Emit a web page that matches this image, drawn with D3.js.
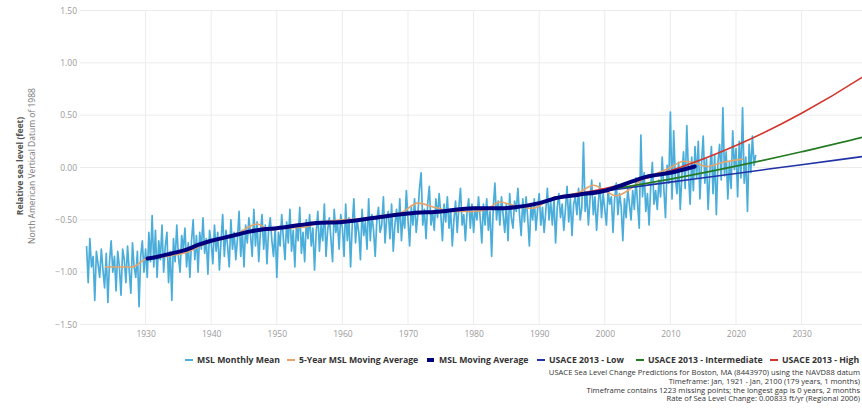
<!DOCTYPE html>
<html><head><meta charset="utf-8">
<script src="https://cdn.jsdelivr.net/npm/d3@7"></script>
<style>body{margin:0;background:#fff}svg{display:block;font-family:"Open Sans",sans-serif}</style>
</head><body>
<script>
// ---------- DATA ----------
const monthlyStartYear = 1921;
const monthlyStep = 0.25; // quarterly samples
const monthlyMean = [
-0.75,-1.10,-0.68,-0.95, -0.85,-1.27,-0.80,-0.92, -1.05,-0.78,-0.98,-1.15, -0.82,-1.29,-0.90,-0.70,
-1.00,-0.85,-1.18,-0.80, -0.95,-1.22,-0.78,-0.88, -1.10,-0.75,-0.98,-1.20, -0.72,-0.95,-1.05,-0.80,
-1.33,-0.85,-0.70,-1.00, -0.78,-1.05,-0.62,-0.90, -0.46,-0.95,-0.60,-1.05, -0.70,-0.88,-0.55,-1.00,
-0.75,-0.62,-1.10,-0.80, -1.27,-0.68,-0.90,-0.55, -0.85,-1.00,-0.65,-0.78, -0.58,-0.95,-0.72,-1.05,
-0.70,-0.50,-0.88,-0.65, -1.00,-0.62,-0.78,-0.48, -0.82,-0.68,-1.02,-0.60, -0.72,-0.92,-0.55,-0.80,
-0.62,-0.98,-0.70,-0.45, -0.85,-0.60,-0.75,-0.95, -0.50,-0.78,-0.62,-0.88, -0.68,-0.42,-0.85,-0.60,
-0.95,-0.55,-0.72,-0.48, -0.65,-0.85,-0.40,-0.75, -0.52,-0.90,-0.62,-0.45, -0.78,-0.55,-0.92,-0.60,
-0.48,-0.70,-0.85,-0.58, -1.05,-0.62,-0.75,-0.45, -0.68,-0.88,-0.52,-0.72, -0.40,-0.80,-0.60,-0.95,
-0.55,-0.70,-0.38,-0.82, -0.62,-0.90,-0.50,-0.68, -0.45,-0.75,-0.58,-0.98, -0.62,-0.42,-0.80,-0.55,
-0.70,-0.35,-0.85,-0.60, -0.48,-0.68,-0.90,-0.40, -0.62,-0.52,-0.78,-0.45, -0.58,-0.85,-0.35,-0.70,
-0.48,-0.95,-0.55,-0.30, -0.72,-0.50,-0.62,-0.88, -0.40,-0.65,-0.52,-0.78, -0.30,-0.70,-0.45,-0.60,
-0.85,-0.50,-0.38,-0.62, -0.55,-0.28,-0.72,-0.48, -0.42,-0.68,-0.35,-0.80, -0.55,-0.40,-0.62,-0.30,
-0.70,-0.45,-0.58,-0.22, -0.50,-0.75,-0.38,-0.55, -0.30,-0.62,-0.45,-0.20, -0.05,-0.55,-0.40,-0.68,
-0.35,-0.18,-0.55,-0.42, -0.60,-0.30,-0.48,-0.25, -0.45,-0.70,-0.35,-0.52, -0.28,-0.58,-0.40,-0.75,
-0.50,-0.32,-0.62,-0.38, -0.20,-0.55,-0.45,-0.70, -0.42,-0.30,-0.58,-0.35, -0.62,-0.38,-0.50,-0.28,
-0.48,-0.72,-0.35,-0.55, -0.30,-0.60,-0.42,-0.85, -0.38,-0.15,-0.50,-0.32, -0.55,-0.28,-0.45,-0.62,
-0.35,-0.70,-0.25,-0.48, -0.58,-0.32,-0.42,-0.20, -0.45,-0.65,-0.30,-0.52, -0.28,-0.48,-0.75,-0.35,
-0.50,-0.30,-0.60,-0.40, -0.25,-0.55,-0.38,-0.62, -0.42,-0.20,-0.50,-0.32, -0.55,-0.30,-0.72,-0.38,
-0.25,-0.48,-0.35,-0.60, -0.40,-0.18,-0.52,-0.30, -0.65,-0.35,-0.28,-0.45, -0.20,-0.50,-0.38, 0.24,
-0.42,-0.25,-0.55,-0.30, -0.12,-0.45,-0.28,-0.60, -0.35,-0.15,-0.48,-0.25, -0.40,-0.55,-0.22,-0.35,
-0.28,-0.62,-0.30,-0.15, -0.45,-0.25,-0.38,-0.70, -0.30,-0.48,-0.20,-0.35, -0.50,-0.22,-0.40,-0.10,
-0.35,-0.58, 0.31,-0.28, -0.05,-0.42,-0.25,-0.55, -0.18, 0.05,-0.35,-0.22, -0.40,-0.12,-0.28, 0.10,
-0.20,-0.48, 0.02,-0.15,  0.53,-0.30, 0.35,-0.10, -0.25, 0.05,-0.40,-0.08,  0.15,-0.20, 0.40,-0.05,
-0.35, 0.10,-0.22, 0.20, -0.10, 0.25,-0.30, 0.05,  0.30,-0.15, 0.08,-0.40, -0.05, 0.20,-0.25, 0.12,
-0.45, 0.05, 0.22,-0.12,  0.57,-0.08, 0.15,-0.30,  0.05,-0.20, 0.35,-0.02,  0.18,-0.28, 0.25,-0.10,
 0.57,-0.15, 0.10,-0.42,  0.22,-0.05, 0.30, 0.02,  0.12
];
const fiveYearYears  = [1923.8,1926,1928,1930.2,1932,1934,1936.3,1938,1940,1942,1944,1947,1949,1951,1954,1957,1960,1963,1966,1969,1971.5,1974,1977,1980,1982,1984,1986,1989,1991,1993,1996,1998.3,2000,2001.7,2004,2006,2008.6,2010,2012,2014,2015.5,2018,2021.1];
const fiveYearValues = [-0.95,-0.95,-0.95,-0.87,-0.86,-0.84,-0.81,-0.76,-0.71,-0.68,-0.63,-0.54,-0.60,-0.58,-0.57,-0.52,-0.50,-0.49,-0.46,-0.43,-0.34,-0.38,-0.42,-0.42,-0.40,-0.33,-0.36,-0.39,-0.33,-0.28,-0.24,-0.17,-0.22,-0.27,-0.20,-0.10,-0.04,0.00,0.06,0.04,0.01,0.05,0.08];
const movingAvgYears  = [1930.3,1932,1934,1936,1938,1940,1942,1944,1946,1948,1950,1953.5,1956,1960,1965,1970,1975,1980,1984,1986.3,1990,1992.7,1996,2000.2,2003,2006.3,2010,2013.7];
const movingAvgValues = [-0.87,-0.85,-0.82,-0.79,-0.74,-0.70,-0.67,-0.64,-0.61,-0.59,-0.58,-0.55,-0.53,-0.52,-0.48,-0.44,-0.42,-0.39,-0.39,-0.38,-0.34,-0.29,-0.26,-0.22,-0.16,-0.09,-0.05,0.01];
const projYears = [1992, 2000, 2010, 2020, 2030, 2040, 2050];
const usaceLow  = [-0.29,-0.223,-0.140,-0.057,0.027,0.110,0.193];
const usaceInt  = [-0.29,-0.217,-0.111,0.013,0.150,0.300,0.480];
const usaceHigh = [-0.29,-0.201,-0.030,0.210,0.518,0.893,1.337];
const gridYears = [1930,1940,1950,1960,1970,1980,1990,2000,2010,2020,2030,2040];
const xTickLabels = [1930,1940,1950,1960,1970,1980,1990,2000,2010,2020,2030];
const yTicks = [-1.5,-1.0,-0.5,0,0.5,1.0,1.5];
const legendLabels = ["MSL Monthly Mean","5-Year MSL Moving Average","MSL Moving Average","USACE 2013 - Low","USACE 2013 - Intermediate","USACE 2013 - High"];
const footnotes = [
 "USACE Sea Level Change Predictions for Boston, MA (8443970) using the NAVD88 datum",
 "Timeframe: Jan, 1921 - Jan, 2100 (179 years, 1 months)",
 "Timeframe contains 1223 missing points; the longest gap is 0 years, 2 months",
 "Rate of Sea Level Change: 0.00833 ft/yr (Regional 2006)"
];

// ---------- STYLE ----------
const colors = {monthly:"#4badda", five:"#e6a46c", avg:"#00007f", low:"#2132a6", mid:"#237a23", high:"#d2352b"};
const W = 862, H = 410;
const svg = d3.select("body").append("svg").attr("width", W).attr("height", H);

const x = d3.scaleLinear().domain([1920, 2100]).range([80, 80 + 180*6.56]);
const y = d3.scaleLinear().domain([-1.5, 1.5]).range([324.5, 10.5]);

// grid
svg.append("g").selectAll("line").data(yTicks).join("line")
  .attr("x1", x(1920)).attr("x2", W).attr("y1", d=>y(d)).attr("y2", d=>y(d))
  .attr("stroke", "#ececec").attr("stroke-width", 1);
svg.append("g").selectAll("line").data(gridYears).join("line")
  .attr("x1", d=>x(d)).attr("x2", d=>x(d)).attr("y1", y(1.5)).attr("y2", y(-1.5))
  .attr("stroke", "#ececec").attr("stroke-width", 1);

// axes labels
const yAxis = d3.axisLeft(y).tickValues(yTicks).tickFormat(d3.format(".2f")).tickSize(0).tickPadding(3);
const gy = svg.append("g").attr("transform", `translate(${x(1920)},0)`).call(yAxis);
gy.select(".domain").remove();
gy.selectAll("text").attr("fill", "#9a9a9a").style("font-size", "8.5px").style("font-family", "Open Sans");

const xAxis = d3.axisBottom(x).tickValues(xTickLabels).tickFormat(d3.format("d")).tickSize(0).tickPadding(6);
const gx = svg.append("g").attr("transform", `translate(0,${y(-1.5)})`).call(xAxis);
gx.select(".domain").remove();
gx.selectAll("text").attr("fill", "#9a9a9a").style("font-size", "8.5px").style("font-family", "Open Sans");

// axis titles
const tg = svg.append("g").attr("transform", "translate(23,166) rotate(-90)");
tg.append("text").attr("text-anchor", "middle").attr("font-weight", "bold").attr("fill", "#555")
  .style("font-size", "8.5px").text("Relative sea level (feet)");
tg.append("text").attr("text-anchor", "middle").attr("y", 11.5).attr("fill", "#777")
  .style("font-size", "8.5px").text("North American Vertical Datum of 1988");

// lines
const line = d3.line().x(d=>x(d[0])).y(d=>y(d[1]));
const smooth = d3.line().x(d=>x(d[0])).y(d=>y(d[1])).curve(d3.curveMonotoneX);
const monthlyPts = monthlyMean.map((v,i)=>[monthlyStartYear + i*monthlyStep, v]);
svg.append("path").datum(monthlyPts).attr("d", line).attr("fill","none")
  .attr("stroke", colors.monthly).attr("stroke-width", 1.7).attr("stroke-linejoin","round");
svg.append("path").datum(d3.zip(fiveYearYears, fiveYearValues)).attr("d", smooth).attr("fill","none")
  .attr("stroke", colors.five).attr("stroke-width", 1.6);
[[usaceLow, colors.low],[usaceInt, colors.mid],[usaceHigh, colors.high]].forEach(([vals,c])=>{
  svg.append("path").datum(d3.zip(projYears, vals)).attr("d", smooth).attr("fill","none")
    .attr("stroke", c).attr("stroke-width", 1.6);
});
svg.append("path").datum(d3.zip(movingAvgYears, movingAvgValues)).attr("d", smooth).attr("fill","none")
  .attr("stroke", colors.avg).attr("stroke-width", 4).attr("stroke-linecap","round");

// legend
const legendColors = [colors.monthly, colors.five, colors.avg, colors.low, colors.mid, colors.high];
const legendX = [185, 287, 427, 537, 636, 770];
const lg = svg.append("g");
legendLabels.forEach((t,i)=>{
  lg.append("rect").attr("x", legendX[i]).attr("y", i===2 ? 358 : 359)
    .attr("width", i===2 ? 7 : 8).attr("height", i===2 ? 4 : 2).attr("fill", legendColors[i]);
  lg.append("text").attr("x", legendX[i] + 12).attr("y", 363.2).attr("fill", "#333")
    .attr("font-weight", "bold").style("font-size", "8.7px").text(t);
});

// footnotes
footnotes.forEach((t,i)=>{
  svg.append("text").attr("x", 860).attr("y", 375 + i*8.8).attr("text-anchor","end")
    .attr("fill", "#333").style("font-size", "7.6px").text(t);
});
</script>
</body></html>
